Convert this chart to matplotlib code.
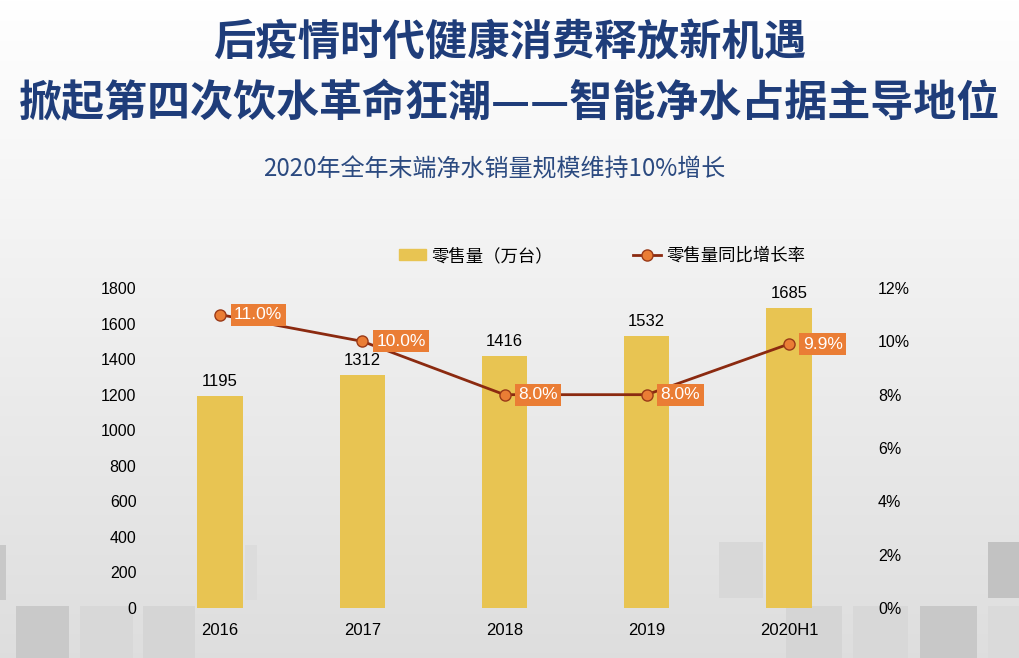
import numpy as np
import matplotlib.pyplot as plt
from matplotlib.patches import Rectangle
from matplotlib.lines import Line2D
from matplotlib.ticker import FuncFormatter

plt.rcParams['font.family'] = ['Liberation Sans', 'Noto Sans CJK SC', 'DejaVu Sans']

categorias = ['2016', '2017', '2018', '2019', '2020H1']
vendas = [1195, 1312, 1416, 1532, 1685]          # 万台
crescimento = [11.0, 10.0, 8.0, 8.0, 9.9]        # %

COR_BARRA = '#e8c452'
COR_LINHA = '#8b2a10'
COR_MARCA = '#ea7d35'
COR_TITULO = '#1f3d7a'

fig = plt.figure(figsize=(10.2, 6.58), dpi=100)

# fundo em degradê + blocos decorativos
fundo = fig.add_axes([0, 0, 1, 1], zorder=-5)
grad = np.linspace(1.0, 0.87, 256).reshape(-1, 1)
fundo.imshow(np.dstack([grad, grad, grad]), aspect='auto', extent=[0, 1020, 658, 0])
blocos = [
    (0, 545, 6, 55, '#c8c8c8'), (245, 545, 12, 55, '#dcdcdc'),
    (16, 606, 53, 52, '#c9c9c9'), (80, 606, 53, 52, '#d8d8d8'), (143, 606, 52, 52, '#d5d5d5'),
    (719, 542, 44, 56, '#d8d8d8'), (786, 606, 56, 52, '#d5d5d5'), (853, 606, 55, 52, '#d8d8d8'),
    (920, 606, 57, 52, '#c8c8c8'), (988, 606, 32, 52, '#dadada'), (988, 542, 32, 56, '#c2c2c2'),
]
for x, y, w, h, c in blocos:
    fundo.add_patch(Rectangle((x, y), w, h, color=c, lw=0))
fundo.set_xlim(0, 1020)
fundo.set_ylim(658, 0)
fundo.axis('off')

# títulos
cjk = ['Noto Sans CJK SC', 'DejaVu Sans']
fig.text(0.5, 1 - 43 / 658, '后疫情时代健康消费释放新机遇', ha='center', va='center',
         fontsize=30.5, fontweight='bold', color=COR_TITULO, family=cjk)
fig.text(0.5, 1 - 103 / 658, '掀起第四次饮水革命狂潮——智能净水占据主导地位', ha='center', va='center',
         fontsize=31, fontweight='bold', color=COR_TITULO, family=cjk)
fig.text(0.485, 1 - 170 / 658, '2020年全年末端净水销量规模维持10%增长', ha='center', va='center',
         fontsize=17.3, color='#2b4a80', family=cjk)

ax = fig.add_axes([149 / 1020, 1 - 608 / 658, 711 / 1020, 320 / 658])
ax.patch.set_alpha(0)
x = np.arange(len(categorias))
barras = ax.bar(x, vendas, width=0.32, color=COR_BARRA, zorder=2)
for b, v in zip(barras, vendas):
    ax.annotate(str(v), (b.get_x() + b.get_width() / 2, v), xytext=(0, 5),
                textcoords='offset points', ha='center', va='bottom', fontsize=12)
ax.set_xlim(-0.5, len(categorias) - 0.5)
ax.set_ylim(0, 1800)
ax.set_yticks(range(0, 1801, 200))
ax.set_xticks(x)
ax.set_xticklabels(categorias)
ax.tick_params(axis='both', length=0, labelsize=12)
ax.tick_params(axis='y', pad=9, labelsize=11.5)
ax.tick_params(axis='x', pad=11)
for s in ax.spines.values():
    s.set_visible(False)

ax2 = ax.twinx()
ax2.plot(x, crescimento, color=COR_LINHA, lw=2, marker='o', ms=8,
         mfc=COR_MARCA, mec='#9a3a18', mew=1, zorder=3)
ax2.set_ylim(0, 12)
ax2.set_yticks(range(0, 13, 2))
ax2.yaxis.set_major_formatter(FuncFormatter(lambda v, p: f'{v:.0f}%'))
ax2.tick_params(axis='y', length=0, labelsize=11.5, pad=13)
for s in ax2.spines.values():
    s.set_visible(False)
for xi, v in zip(x, crescimento):
    ax2.annotate(f'{v:.1f}%', (xi, v), xytext=(10, 0), textcoords='offset points',
                 ha='left', va='center', fontsize=12.5, color='white', zorder=5,
                 bbox=dict(boxstyle='square,pad=0.2', fc=COR_MARCA, ec='none'))

handles = [
    Rectangle((0, 0), 1, 1, color=COR_BARRA),
    Line2D([0], [0], color=COR_LINHA, lw=2, marker='o', ms=8, mfc=COR_MARCA, mec='#9a3a18'),
]
fig.legend(handles, ['零售量（万台）', '零售量同比增长率'], loc='center',
           bbox_to_anchor=(0.59, 1 - 256 / 658), ncol=2, frameon=False,
           prop={'family': cjk, 'size': 12.5}, columnspacing=4.6, handlelength=1.6,
           handleheight=0.6, handletextpad=0.3)

fig.savefig('out.png', dpi=100)
